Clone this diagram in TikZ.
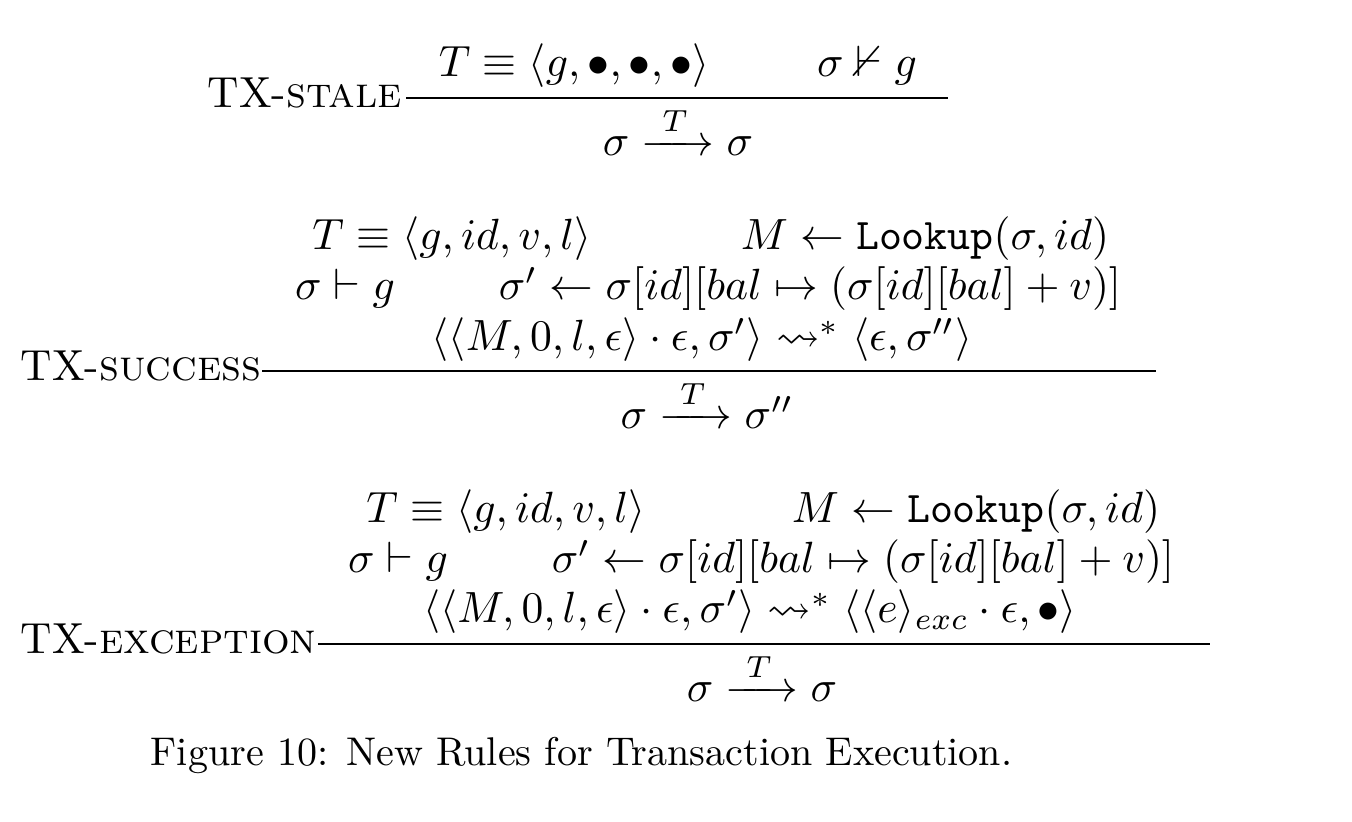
\documentclass[tikz,border=0pt]{standalone}
\usepackage{amsmath,amssymb}
\newcommand{\txarrow}{\xrightarrow{\;T\;}}
\begin{document}
\begin{tikzpicture}[x=0.2439pt,y=-0.2439pt,
  lbl/.style={inner sep=0pt, anchor=base west, scale=1.06, transform shape},
  txt/.style={inner sep=0pt, anchor=base, scale=1.066, transform shape},
  capt/.style={inner sep=0pt, anchor=base west, scale=0.977, transform shape},
  rul/.style={line width=0.45pt}]
\useasboundingbox (0,0) rectangle (1352,822);
% Rule 1
\node[lbl] (l1) at (207,108) {TX-\textsc{stale}};
\node[txt] (p11) at (574,77) {$T \equiv \langle g, \bullet, \bullet, \bullet\rangle$};
\node[txt] (p12) at (867,77) {$\sigma \nvdash g$};
\coordinate (a1) at (406,98);
\coordinate (b1) at (948,98);
\draw[rul] (a1) -- (b1);
\node[txt] (c1) at (678,156) {$\sigma \txarrow \sigma$};
% Rule 2
\node[lbl] (l2) at (20,381) {TX-\textsc{success}};
\node[txt] (p21) at (452,250) {$T \equiv \langle g, id, v, l\rangle$};
\node[txt] (p22) at (925,250) {$M \leftarrow \texttt{Lookup}(\sigma, id)$};
\node[txt] (p23) at (345,300) {$\sigma \vdash g$};
\node[txt] (p24) at (810,300) {$\sigma' \leftarrow \sigma[id][bal \mapsto (\sigma[id][bal] + v)]$};
\node[txt] (p25) at (702,351) {$\langle\langle M, 0, l, \epsilon\rangle \cdot \epsilon, \sigma'\rangle \leadsto^* \langle \epsilon, \sigma''\rangle$};
\coordinate (a2) at (262,371);
\coordinate (b2) at (1156,371);
\draw[rul] (a2) -- (b2);
\node[txt] (c2) at (707,429) {$\sigma \txarrow \sigma''$};
% Rule 3
\node[lbl] (l3) at (20,654) {TX-\textsc{exception}};
\node[txt] (p31) at (506,523) {$T \equiv \langle g, id, v, l\rangle$};
\node[txt] (p32) at (976,523) {$M \leftarrow \texttt{Lookup}(\sigma, id)$};
\node[txt] (p33) at (398,573) {$\sigma \vdash g$};
\node[txt] (p34) at (863,573) {$\sigma' \leftarrow \sigma[id][bal \mapsto (\sigma[id][bal] + v)]$};
\node[txt] (p35) at (750,623) {$\langle\langle M, 0, l, \epsilon\rangle \cdot \epsilon, \sigma'\rangle \leadsto^* \langle \langle e\rangle_{exc} \cdot \epsilon, \bullet\rangle$};
\coordinate (a3) at (318,644);
\coordinate (b3) at (1210,644);
\draw[rul] (a3) -- (b3);
\node[txt] (c3) at (762,702) {$\sigma \txarrow \sigma$};
% Caption
\node[capt] (cap) at (150,766) {Figure 10: New Rules for Transaction Execution.};
\end{tikzpicture}
\end{document}
